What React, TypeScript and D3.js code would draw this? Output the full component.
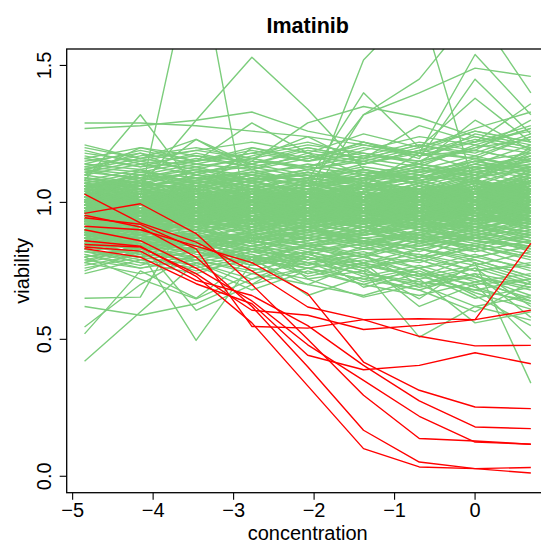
import React from "react";
import * as d3 from "d3";

// log concentration (2-fold dilution series)
const concentration = [-4.852, -4.159, -3.466, -2.773, -2.079, -1.386, -0.693, 0, 0.693];
const xTicks = [-5, -4, -3, -2, -1, 0];
const yTicks = [0, 0.5, 1.0, 1.5];
const title = "Imatinib";

// insensitive cell lines (green)
const greenCore: number[][] = [
  [0.96,0.99,0.94,1.01,0.97,0.95,1.02,0.99,1.04],[1.01,0.97,1.03,0.99,1.05,1.02,0.98,1.06,1.01],
  [0.92,0.95,0.91,0.97,0.93,0.99,0.94,0.96,0.92],[0.99,1.03,1.00,0.96,1.02,1.06,1.01,1.04,1.09],
  [0.94,0.91,0.96,0.93,0.98,0.92,0.97,1.00,0.95],[1.04,1.00,1.06,1.02,0.98,1.04,1.08,1.03,1.07],
  [0.97,1.01,0.98,1.04,1.00,0.97,1.03,0.99,1.02],[0.90,0.93,0.97,0.92,0.95,0.91,0.94,0.98,0.93],
  [1.00,0.96,0.99,1.03,0.97,1.01,0.96,1.02,1.06],[0.95,0.98,1.02,0.97,1.01,0.98,1.04,0.97,1.00],
  [1.02,1.05,1.01,0.98,1.03,1.07,1.02,1.08,1.04],[0.93,0.96,0.92,0.95,0.99,0.94,0.91,0.96,0.99],
  [0.98,0.94,0.97,1.00,0.96,1.02,0.99,0.95,1.01],[1.06,1.02,1.04,1.08,1.03,1.00,1.06,1.11,1.07],
  [0.91,0.89,0.93,0.90,0.94,0.96,0.92,0.89,0.94],[0.97,1.00,0.96,0.99,1.02,0.98,1.01,1.05,0.99],
  [1.01,0.98,1.02,0.97,1.00,1.04,0.97,1.01,1.05],[0.94,0.97,0.99,0.95,0.92,0.97,1.00,0.96,0.93],
  [0.99,1.02,0.98,1.03,1.06,1.01,1.04,1.00,1.08],[0.87,0.91,0.89,0.93,0.90,0.88,0.93,0.91,0.87],
  [1.03,0.99,1.01,1.05,1.00,1.03,0.99,1.06,1.02],[0.96,0.93,0.97,0.94,0.98,1.01,0.95,0.99,1.03],
  [1.00,1.04,1.02,0.99,1.04,1.00,1.05,1.02,0.98],[0.92,0.96,0.94,0.98,0.95,0.93,0.97,0.94,0.97],
  [0.98,0.95,1.00,0.96,1.01,0.97,1.02,1.06,1.03],[1.05,1.08,1.03,1.06,1.02,1.07,1.04,1.09,1.13],
  [0.93,0.90,0.95,0.97,0.93,0.96,0.99,0.94,0.97],[0.99,1.01,0.97,1.00,0.98,1.02,0.96,1.00,0.97],
  [0.95,0.99,0.96,0.93,0.97,0.95,1.00,1.03,1.00],[1.02,1.00,1.04,1.01,1.05,1.02,1.07,1.03,1.10],
  [0.89,0.93,0.91,0.95,0.91,0.94,0.90,0.95,0.92],[0.97,0.94,0.98,1.02,0.99,0.96,1.00,0.97,1.01],
  [1.01,1.04,0.99,0.97,1.01,1.05,1.03,1.07,1.04],[0.94,0.98,0.95,0.99,0.96,1.00,0.97,0.93,0.96],
  [0.98,1.01,1.03,0.99,1.03,0.99,1.02,1.04,1.00],[0.96,0.92,0.94,0.97,0.94,0.91,0.95,0.98,0.94],
  [1.03,1.06,1.02,1.04,1.07,1.03,1.00,1.05,1.09],[0.91,0.95,0.97,0.93,0.96,0.99,0.94,0.97,1.00],
  [1.00,0.97,1.01,1.03,0.99,1.01,1.04,1.00,1.03],[0.95,0.97,0.93,0.96,1.00,0.96,0.93,0.97,0.95],
  [0.97,1.02,0.99,1.01,0.97,1.03,1.00,1.04,1.07],[1.04,1.01,1.05,1.00,1.03,1.06,1.02,0.99,1.04],
  [0.90,0.94,0.92,0.89,0.93,0.91,0.95,0.92,0.96],[0.99,0.96,1.00,0.98,1.02,0.98,1.01,1.05,1.01],
  [0.93,0.97,0.95,0.99,0.95,0.98,0.96,1.00,0.97],[1.02,0.99,1.03,1.05,1.01,1.04,1.08,1.03,1.06],
  [0.96,1.00,0.98,0.94,0.99,0.95,0.98,1.01,0.98],[0.98,1.02,0.97,1.01,1.04,1.00,1.03,0.99,1.02],
  [0.92,0.94,0.96,0.93,0.97,0.94,0.99,0.96,0.93],[1.01,0.97,1.00,1.02,0.98,1.03,1.00,1.04,1.08],
  [0.95,0.99,0.97,1.00,0.96,0.99,0.95,0.98,1.01],[1.07,1.03,1.05,1.01,1.05,1.09,1.04,1.08,1.05],
  [0.88,0.92,0.90,0.94,0.91,0.93,0.90,0.94,0.91],[0.97,0.99,1.02,0.98,1.00,0.97,1.01,0.98,1.03],
  [1.00,1.03,0.99,1.02,0.99,1.02,1.05,1.01,0.99],[0.94,0.96,0.93,0.96,0.98,0.95,0.97,1.01,0.97],
  [0.99,0.97,1.01,0.97,1.02,1.06,1.02,1.05,1.10],[0.96,0.99,0.95,0.99,0.95,0.98,0.94,0.97,0.95],
  [1.02,1.05,1.03,1.00,1.04,1.01,1.06,1.02,1.05],[0.93,0.95,0.97,0.95,0.93,0.97,0.95,0.99,1.02],
  [0.97,0.95,1.00,0.97,1.00,1.03,0.98,1.02,0.99],[1.00,1.02,0.98,1.02,0.97,1.00,1.04,1.00,1.04],
  [0.93,0.91,0.94,0.98,0.94,0.97,0.93,0.96,1.00],[0.98,1.00,1.04,1.00,1.03,0.99,1.02,1.07,1.03],
  [0.95,0.97,0.94,0.96,0.99,0.96,1.00,0.96,0.94],[1.03,1.01,1.00,1.04,1.02,1.06,1.03,1.01,1.06],
  [0.91,0.94,0.92,0.95,0.92,0.95,0.91,0.94,0.97],[0.99,0.96,0.99,0.95,0.99,1.02,0.97,1.00,1.04],
  [0.96,1.00,0.97,1.00,1.03,0.99,1.03,0.99,0.97],[1.02,0.98,1.03,1.00,0.97,1.01,1.05,1.03,1.08],
  [0.94,0.96,0.98,0.94,0.97,0.93,0.96,1.00,0.96],[1.00,1.03,1.01,1.03,1.00,1.04,1.01,1.05,1.01],
  [0.92,0.90,0.93,0.91,0.95,0.92,0.96,0.93,0.96],[0.97,1.01,0.96,0.98,1.01,0.98,0.95,0.99,1.02],
  [1.04,1.02,1.06,1.03,1.01,1.05,1.03,1.08,1.04],[0.95,0.93,0.96,1.00,0.96,0.94,0.98,0.95,0.99],
  [0.99,1.02,0.99,0.97,1.01,0.98,1.02,1.04,1.00],[0.90,0.93,0.95,0.92,0.89,0.93,0.95,0.91,0.94],
  [1.01,0.99,1.02,1.05,1.02,1.00,1.03,1.00,1.05],[0.96,0.98,0.95,0.97,0.95,0.99,0.96,1.01,0.97],
  [0.98,0.96,1.00,1.02,0.98,1.01,0.99,0.97,1.02],[1.02,1.04,1.01,0.99,1.03,1.01,1.06,1.02,1.06],
  [0.93,0.96,0.94,0.96,0.93,0.96,0.94,0.98,0.94],[0.97,0.99,0.97,1.01,0.98,1.03,1.00,1.03,1.07],
  [1.00,0.98,1.02,0.98,1.02,0.98,1.02,0.99,1.03],[0.94,0.98,0.96,0.93,0.96,1.00,0.96,0.99,0.95],
  [1.03,1.00,1.03,1.01,1.04,1.01,0.98,1.02,1.04],[0.91,0.93,0.90,0.94,0.96,0.92,0.95,0.92,0.95],
  [0.99,1.01,0.98,1.00,0.97,1.00,1.04,1.01,0.98],[0.96,0.94,0.98,0.95,0.99,0.97,0.94,0.97,1.01],
  [1.01,1.03,1.00,1.03,1.00,1.03,1.01,1.06,1.03],[0.94,0.92,0.95,0.97,0.95,0.97,0.99,0.95,0.98],
  [0.98,1.00,1.02,0.99,1.01,0.97,1.00,1.03,1.00],[0.97,0.95,0.97,0.99,0.97,1.00,0.98,0.96,0.99],
  [1.02,1.00,0.98,1.01,1.04,1.02,1.04,1.01,1.05],[0.92,0.95,0.93,0.91,0.94,0.96,0.93,0.96,0.93],
  [0.99,0.97,1.00,1.02,0.99,1.02,0.99,1.02,1.06],[0.95,0.98,0.96,0.98,1.00,0.97,1.01,0.97,0.96],
  [1.00,1.02,1.03,1.00,1.02,1.04,1.01,1.04,1.02],[0.93,0.95,0.97,0.94,0.96,0.93,0.97,0.94,0.97],
];

const greenZigzag: number[][] = [
  [0.93,1.02,0.95,1.05,0.97,1.08,0.99,1.06,0.96],[1.04,0.95,1.03,0.94,1.01,0.93,1.04,0.97,1.08],
  [0.97,0.90,0.99,1.06,0.96,1.03,0.94,1.05,1.10],[0.89,0.97,0.92,0.99,0.91,0.98,1.05,0.95,1.02],
  [1.01,1.07,0.98,0.93,1.03,0.96,1.02,1.09,0.97],[0.95,0.88,0.96,1.02,0.94,0.89,0.98,0.93,1.04],
  [1.06,0.99,1.05,0.97,1.08,1.01,0.95,1.03,0.99],[0.92,0.99,1.04,0.95,0.90,0.98,1.06,1.00,0.94],
  [0.99,0.93,0.90,0.98,1.05,0.99,0.93,0.98,1.07],[1.02,1.08,1.01,1.07,0.99,1.05,1.10,1.03,1.12],
  [0.88,0.94,0.99,0.91,0.97,0.92,0.99,1.04,0.96],[0.96,1.03,0.95,0.91,0.98,1.04,0.97,0.92,1.00],
  [1.00,0.94,1.02,1.08,1.01,0.95,1.03,1.08,1.02],[0.94,1.00,0.92,0.97,1.04,0.98,0.91,0.99,0.93],
  [1.05,0.98,1.04,1.00,0.94,1.02,1.07,1.00,1.06],[0.91,0.86,0.94,0.89,0.96,0.90,0.97,0.91,0.99],
  [0.98,1.05,0.97,1.03,0.96,1.06,1.00,1.07,1.01],[1.03,0.97,0.93,1.01,1.06,0.98,1.04,0.96,1.03],
  [0.90,0.95,1.01,0.94,0.99,1.04,0.95,1.01,0.97],[0.97,0.92,0.98,1.04,0.97,0.93,1.01,0.95,0.91],
  [1.07,1.01,1.06,0.99,1.04,1.09,1.02,1.08,1.04],[0.93,0.98,0.91,0.96,0.92,0.98,0.94,1.02,1.07],
  [0.99,1.04,1.00,0.95,1.01,0.96,1.05,0.99,0.95],[0.86,0.91,0.88,0.94,0.89,0.95,0.90,0.93,0.98],
  [1.02,0.96,1.03,0.98,1.05,1.00,0.97,1.04,1.00],[0.95,1.01,0.97,1.02,0.95,1.01,1.06,0.98,1.04],
  [1.00,0.95,0.99,0.94,1.00,0.94,0.99,1.05,1.11],[0.92,0.97,0.94,1.01,0.96,0.91,0.96,0.90,0.95],
  [1.04,1.00,1.07,1.02,0.97,1.03,0.98,1.02,0.98],[0.97,1.02,0.96,1.00,1.05,1.00,1.04,1.10,1.05],
  [0.89,0.93,0.97,0.92,0.96,0.93,0.88,0.95,0.90],[1.01,0.97,1.01,1.06,0.99,1.06,1.01,0.97,1.03],
  [0.94,0.99,0.93,0.97,1.02,0.95,0.99,0.94,0.99],[0.98,1.03,1.04,0.98,0.94,0.99,1.03,0.99,1.09],
  [1.05,1.00,0.97,1.03,1.07,1.02,0.96,1.01,0.96],[0.91,0.96,0.92,0.98,0.93,0.97,1.02,0.97,1.01],
  [0.96,0.92,0.97,0.92,0.99,1.03,0.97,1.03,0.98],[1.03,1.07,1.01,1.05,1.01,0.97,1.02,1.06,1.13],
  [0.93,0.89,0.95,0.99,0.95,1.00,0.94,0.90,0.96],[1.00,1.05,0.99,1.02,0.96,1.01,1.07,1.02,1.00],
  [0.95,0.99,1.03,0.96,1.02,0.96,0.93,0.99,1.05],[0.99,0.94,0.97,1.01,0.98,1.04,0.99,1.05,0.99],
  [0.87,0.92,0.90,0.86,0.92,0.89,0.94,0.89,0.93],[1.02,0.99,1.05,1.01,1.06,1.00,1.05,1.01,1.07],
  [0.94,1.00,0.95,0.99,0.94,0.98,0.93,0.98,1.02],[0.97,0.94,1.00,0.96,1.03,0.97,1.02,0.96,0.92],
  [1.06,1.02,0.99,1.04,1.00,1.06,1.01,1.07,1.02],[0.92,0.96,0.93,0.90,0.95,0.99,0.95,1.00,0.96],
  [1.00,1.03,0.96,1.00,1.04,0.99,1.04,0.98,1.04],[0.95,0.92,0.98,0.95,0.99,0.93,0.97,1.02,0.97],
  [0.98,1.02,1.01,1.05,0.99,1.03,0.98,1.03,1.09],[0.90,0.94,0.90,0.93,0.97,0.92,0.97,0.93,0.89],
  [1.03,0.98,1.02,0.97,1.02,1.07,1.03,1.08,1.03],[0.96,1.00,0.96,1.01,0.96,0.93,0.99,0.94,1.00],
  [0.99,0.96,1.03,0.99,1.03,0.99,1.05,1.00,0.97],[0.93,0.97,0.95,0.92,0.98,0.94,0.92,0.97,1.03],
  [1.01,1.05,1.00,1.04,1.00,1.05,1.00,1.04,1.00],[0.97,0.93,0.99,0.95,0.93,0.98,1.03,0.98,1.05],
  [0.94,0.98,0.93,0.98,1.01,0.96,1.00,1.06,1.00],[1.04,1.01,1.04,1.08,1.03,1.01,1.06,1.01,1.08],
  [0.91,0.94,0.97,0.93,0.90,0.95,0.92,0.96,0.92],[0.98,0.95,0.97,1.01,0.96,1.02,0.97,1.01,0.96],
  [1.00,1.04,1.01,0.98,1.04,0.98,1.03,0.99,1.05],[0.95,0.98,0.94,0.99,0.95,1.00,0.95,0.99,0.95],
  [0.97,1.00,1.04,0.99,1.02,0.97,1.03,1.07,1.01],[0.92,0.95,0.91,0.95,0.92,0.97,0.93,0.90,0.95],
  [1.02,0.98,1.02,1.04,1.00,1.04,1.00,1.05,1.11],[0.96,1.02,0.98,0.94,0.99,0.94,0.98,0.93,0.98],
  [0.99,0.97,0.95,1.00,1.05,1.01,1.06,1.01,1.04],[0.88,0.91,0.94,0.90,0.93,0.88,0.91,0.96,0.91],
  [1.05,1.03,1.07,1.02,1.04,1.07,1.04,1.00,1.05],[0.94,0.96,0.92,0.97,1.00,0.95,0.98,1.03,0.99],
  [1.01,0.99,1.03,0.97,1.01,1.04,0.98,1.03,0.98],[0.97,0.95,0.99,1.03,0.97,0.99,1.03,0.97,1.02],
  [0.93,0.98,0.96,0.93,0.97,0.92,0.96,1.01,0.97],[1.00,0.97,1.00,1.03,0.99,1.04,1.01,1.05,1.01],
  [0.96,1.01,0.97,0.99,1.03,0.98,1.02,0.98,1.06],[1.03,1.00,1.05,1.01,0.98,1.02,0.99,1.03,0.99],
  [0.90,0.92,0.96,0.92,0.95,0.91,0.96,0.92,0.97],[0.98,1.03,0.99,1.02,0.98,1.03,0.97,1.02,0.97],
];

const greenLow: number[][] = [
  [0.85,0.88,0.84,0.90,0.86,0.89,0.85,0.91,0.88],[0.83,0.87,0.86,0.82,0.88,0.85,0.90,0.86,0.84],
  [0.87,0.84,0.88,0.86,0.83,0.89,0.86,0.84,0.89],[0.86,0.90,0.87,0.91,0.88,0.84,0.88,0.92,0.87],
  [0.84,0.86,0.89,0.85,0.90,0.87,0.83,0.87,0.91],[0.88,0.85,0.87,0.89,0.85,0.88,0.91,0.86,0.83],
  [0.82,0.85,0.83,0.87,0.84,0.86,0.82,0.88,0.85],[0.86,0.83,0.88,0.84,0.87,0.83,0.87,0.84,0.80],
  [0.89,0.87,0.85,0.88,0.91,0.87,0.89,0.85,0.88],[0.85,0.89,0.86,0.83,0.86,0.90,0.85,0.89,0.86],
  [0.80,0.84,0.82,0.86,0.83,0.80,0.85,0.82,0.86],[0.87,0.86,0.90,0.87,0.89,0.86,0.84,0.88,0.82],
  [0.84,0.81,0.85,0.88,0.84,0.87,0.83,0.80,0.84],[0.90,0.88,0.86,0.89,0.87,0.91,0.88,0.86,0.90],
  [0.83,0.86,0.88,0.84,0.81,0.85,0.88,0.84,0.79],
  [0.86,0.90,0.85,0.89,0.93,0.88,0.92,0.87,0.91],[0.88,0.84,0.89,0.92,0.87,0.91,0.86,0.90,0.85],
  [0.84,0.88,0.91,0.86,0.90,0.85,0.89,0.93,0.88],[0.87,0.91,0.86,0.88,0.84,0.89,0.93,0.88,0.92],
  [0.85,0.83,0.87,0.91,0.86,0.90,0.87,0.83,0.88],[0.89,0.86,0.90,0.85,0.89,0.93,0.87,0.91,0.86],
  [0.83,0.87,0.84,0.88,0.91,0.85,0.84,0.88,0.93],[0.86,0.89,0.92,0.88,0.85,0.88,0.92,0.86,0.84],
  [0.88,0.85,0.83,0.87,0.90,0.86,0.89,0.92,0.89],[0.84,0.89,0.87,0.84,0.88,0.92,0.86,0.89,0.85],
  [0.78,0.82,0.80,0.84,0.79,0.83,0.81,0.77,0.82],[0.81,0.77,0.83,0.80,0.84,0.80,0.76,0.81,0.75],
  [0.76,0.80,0.84,0.79,0.82,0.78,0.83,0.79,0.73],[0.80,0.83,0.78,0.82,0.77,0.81,0.78,0.84,0.80],
  [0.74,0.79,0.82,0.77,0.81,0.76,0.80,0.75,0.78],[0.79,0.76,0.80,0.86,0.82,0.85,0.80,0.83,0.77],
  [0.88,0.85,0.83,0.80,0.78,0.74,0.71,0.68,0.64],[0.84,0.82,0.86,0.79,0.76,0.80,0.74,0.70,0.72],
  [0.91,0.87,0.84,0.86,0.81,0.77,0.79,0.73,0.69],[0.79,0.83,0.77,0.81,0.74,0.78,0.72,0.76,0.70],
  [0.86,0.80,0.83,0.77,0.80,0.73,0.77,0.71,0.74],[0.82,0.78,0.80,0.76,0.72,0.75,0.69,0.73,0.66],
  [0.89,0.84,0.80,0.83,0.79,0.82,0.76,0.79,0.73],[0.77,0.81,0.75,0.79,0.76,0.72,0.76,0.69,0.63],
  [0.85,0.88,0.81,0.78,0.82,0.77,0.73,0.77,0.71],[0.81,0.76,0.79,0.74,0.78,0.71,0.75,0.67,0.61],
  [0.87,0.82,0.85,0.81,0.76,0.79,0.74,0.65,0.69],[0.80,0.84,0.79,0.83,0.78,0.74,0.70,0.74,0.58],
  [0.90,0.86,0.88,0.82,0.84,0.78,0.81,0.75,0.77],[0.83,0.79,0.76,0.80,0.73,0.77,0.73,0.68,0.72],
  [0.78,0.74,0.78,0.72,0.76,0.70,0.66,0.71,0.65],
];

const greenHigh: number[][] = [
  [1.08,1.05,1.10,1.07,1.11,1.06,1.09,1.13,1.10],[1.06,1.10,1.07,1.04,1.08,1.12,1.08,1.11,1.15],
  [1.10,1.07,1.05,1.09,1.06,1.09,1.13,1.09,1.12],[1.05,1.09,1.12,1.08,1.10,1.07,1.11,1.15,1.18],
  [1.09,1.06,1.08,1.11,1.13,1.10,1.07,1.12,1.16],[1.07,1.11,1.09,1.05,1.09,1.13,1.10,1.16,1.13],
  [1.12,1.08,1.11,1.14,1.10,1.08,1.12,1.10,1.19],[1.04,1.07,1.05,1.09,1.06,1.10,1.14,1.11,1.14],
  [1.08,1.12,1.07,1.10,1.14,1.11,1.09,1.14,1.21],[1.06,1.04,1.08,1.06,1.05,1.08,1.12,1.17,1.12],
  [1.11,1.09,1.13,1.08,1.12,1.15,1.11,1.13,1.17],[1.03,1.06,1.08,1.12,1.07,1.05,1.10,1.08,1.20],
  [1.10,1.14,1.10,1.07,1.11,1.08,1.15,1.19,1.15],[1.05,1.03,1.06,1.10,1.08,1.12,1.09,1.15,1.11],
  [1.09,1.07,1.11,1.13,1.09,1.14,1.18,1.12,1.17],
  [1.07,1.04,1.08,1.05,1.09,1.06,1.10,1.07,1.13],[1.05,1.09,1.06,1.10,1.06,1.10,1.07,1.12,1.09],
  [1.09,1.05,1.07,1.11,1.08,1.05,1.09,1.14,1.11],[1.06,1.08,1.11,1.07,1.04,1.09,1.13,1.09,1.16],
  [1.04,1.07,1.04,1.08,1.11,1.07,1.05,1.10,1.14],[1.08,1.06,1.09,1.06,1.09,1.12,1.08,1.13,1.10],
  [1.05,1.10,1.08,1.04,1.07,1.10,1.14,1.10,1.18],[1.07,1.05,1.10,1.08,1.12,1.08,1.11,1.15,1.12],
  [1.03,1.06,1.09,1.11,1.07,1.11,1.08,1.12,1.15],[1.06,1.10,1.05,1.09,1.06,1.09,1.12,1.08,1.17],
  [1.16,1.13,1.18,1.14,1.19,1.16,1.21,1.17,1.24],[1.14,1.19,1.15,1.20,1.16,1.22,1.18,1.24,1.20],
  [1.18,1.15,1.12,1.17,1.21,1.18,1.15,1.20,1.27],[1.13,1.17,1.20,1.16,1.13,1.19,1.24,1.21,1.18],
  [1.20,1.16,1.19,1.22,1.18,1.15,1.20,1.26,1.22],[1.12,1.10,1.14,1.18,1.15,1.20,1.17,1.22,1.28],
  [1.14,1.12,1.16,1.13,1.17,1.14,1.19,1.22,1.26],[1.17,1.13,1.15,1.19,1.15,1.18,1.14,1.20,1.23],
  [1.12,1.16,1.13,1.16,1.20,1.16,1.21,1.18,1.25],[1.15,1.18,1.14,1.12,1.16,1.21,1.17,1.23,1.19],
  [1.19,1.14,1.17,1.15,1.13,1.17,1.22,1.19,1.30],[1.13,1.11,1.15,1.18,1.22,1.17,1.15,1.25,1.21],
  [1.16,1.20,1.17,1.13,1.17,1.14,1.19,1.16,1.24],[1.11,1.15,1.19,1.16,1.12,1.16,1.13,1.21,1.27],
];

const greenOutliersHigh: number[][] = [
  [1.29,1.29,1.28,1.26,1.24,1.21,1.18,1.16,1.13],[1.27,1.28,1.30,1.33,1.26,1.22,1.17,1.19,1.15],
  [1.08,1.32,1.05,1.10,1.02,1.06,1.00,1.04,1.01],[0.99,1.06,1.30,1.53,1.34,1.12,1.06,1.02,0.98],
  [1.00,1.02,1.95,0.86,0.98,1.01,0.96,1.03,1.00],[1.01,0.98,1.03,0.99,1.00,1.52,1.73,1.05,1.02],
  [0.99,1.02,0.97,1.04,1.00,1.32,1.45,1.70,1.40],[1.00,0.97,1.02,0.99,1.03,1.06,1.18,1.54,1.32],
  [1.03,1.00,1.05,1.02,1.06,1.32,1.40,1.49,1.46],[1.05,1.10,1.08,1.15,1.29,1.35,1.31,1.24,1.20],
  [1.02,1.06,1.12,1.10,1.08,1.40,1.20,1.38,1.22],[1.00,1.12,1.04,1.20,1.15,1.22,1.16,1.45,1.25],
  [1.21,1.16,1.23,1.12,1.18,1.10,1.14,1.30,1.19],[1.10,1.20,1.15,1.29,1.18,1.25,1.20,1.27,1.33],
  [1.04,1.08,1.23,1.14,1.20,1.16,1.28,1.22,1.36],[1.12,1.18,1.10,1.16,1.24,1.14,1.19,1.26,1.22],
];

const greenOutliersLow: number[][] = [
  [0.42,0.60,0.78,0.70,0.82,0.86,0.80,0.88,0.83],[0.52,0.75,0.65,0.80,0.77,0.84,0.79,0.85,0.81],
  [0.545,0.70,0.82,0.77,0.85,0.80,0.88,0.82,0.86],[0.62,0.588,0.63,0.72,0.80,0.75,0.83,0.78,0.72],
  [0.65,0.654,1.00,0.88,0.92,0.85,0.90,0.87,0.84],[0.75,0.82,0.496,0.78,0.85,0.81,0.86,0.80,0.84],
  [0.80,0.72,0.648,0.74,0.70,0.78,0.73,0.80,0.76],[0.78,0.85,0.606,0.70,0.76,0.72,0.68,0.74,0.70],
  [0.90,0.86,0.82,0.88,0.72,0.654,0.70,0.62,0.66],[0.88,0.92,0.86,0.82,0.80,0.76,0.648,0.78,0.34],
  [0.92,0.89,0.93,0.85,0.80,0.75,0.508,0.62,0.57],[0.85,0.88,0.82,0.79,0.70,0.66,0.72,0.56,0.60],
  [0.87,0.83,0.86,0.80,0.74,0.78,0.62,0.70,0.50],[0.82,0.80,0.77,0.68,0.75,0.70,0.76,0.66,0.55],
  [0.89,0.86,0.84,0.78,0.82,0.69,0.74,0.72,0.64],[0.83,0.78,0.74,0.80,0.66,0.73,0.68,0.60,0.71],
  [0.90,0.84,0.88,0.83,0.78,0.81,0.70,0.76,0.62],[0.86,0.81,0.79,0.75,0.80,0.76,0.79,0.73,0.68],
];

// sensitive cell lines (red)
const redLines: number[][] = [
  [1.03,0.925,0.855,0.75,0.618,0.572,0.511,0.476,0.478],
  [0.96,0.995,0.886,0.70,0.50,0.296,0.138,0.129,0.117],
  [0.953,0.91,0.80,0.62,0.40,0.168,0.052,0.028,0.032],
  [0.944,0.92,0.83,0.547,0.541,0.572,0.575,0.572,0.85],
  [0.913,0.90,0.84,0.78,0.667,0.417,0.314,0.253,0.247],
  [0.90,0.86,0.76,0.64,0.48,0.35,0.219,0.125,0.117],
  [0.846,0.837,0.74,0.606,0.588,0.536,0.551,0.572,0.606],
  [0.837,0.822,0.715,0.66,0.55,0.405,0.275,0.18,0.174],
  [0.831,0.80,0.703,0.63,0.442,0.389,0.405,0.451,0.411],
  [0.86,0.84,0.73,0.56,0.33,0.101,0.034,0.028,0.012],
];

const GREEN = "#7CCD7C";
const RED = "#FF0000";
const FONT = "'Liberation Sans', Arial, Helvetica, sans-serif";

export default function App() {
  const W = 541, H = 543;
  const left = 66.7, right = 548.7, top = 49, bottom = 492.7;
  const xmin = d3.min(concentration)!, xmax = d3.max(concentration)!;
  const xpad = (xmax - xmin) * 0.04;
  const x = d3.scaleLinear().domain([xmin - xpad, xmax + xpad]).range([left, right]);
  const y = d3.scaleLinear().domain([-0.06, 1.56]).range([bottom, top]);
  const line = d3.line<number>().x((_, i) => x(concentration[i])).y((d) => y(d));
  const greens = [...greenCore, ...greenZigzag, ...greenLow, ...greenHigh, ...greenOutliersHigh, ...greenOutliersLow];

  return (
    <svg width={W} height={H} style={{ position: "absolute", left: 0, top: 0, background: "#fff" }} fontFamily={FONT}>
      <defs>
        <clipPath id="plotclip">
          <rect x={left} y={top} width={right - left} height={bottom - top} />
        </clipPath>
      </defs>
      <g clipPath="url(#plotclip)" fill="none" strokeLinejoin="round">
        {greens.map((d, i) => (
          <path key={"g" + i} d={line(d)!} stroke={GREEN} strokeWidth={1.4} />
        ))}
        {redLines.map((d, i) => (
          <path key={"r" + i} d={line(d)!} stroke={RED} strokeWidth={1.4} />
        ))}
      </g>
      <rect x={left} y={top} width={right - left} height={bottom - top} fill="none" stroke="#000" strokeWidth={1.3} />
      {xTicks.map((t) => (
        <g key={"xt" + t}>
          <line x1={x(t)} x2={x(t)} y1={bottom} y2={bottom + 7} stroke="#000" strokeWidth={1.1} />
          <text x={x(t)} y={517} textAnchor="middle" fontSize={20}>
            {t < 0 ? "\u2212" + Math.abs(t) : String(t)}
          </text>
        </g>
      ))}
      {yTicks.map((t) => (
        <g key={"yt" + t}>
          <line x1={left - 7} x2={left} y1={y(t)} y2={y(t)} stroke="#000" strokeWidth={1.1} />
          <text transform={`translate(51,${y(t)}) rotate(-90)`} textAnchor="middle" fontSize={20}>
            {t.toFixed(1)}
          </text>
        </g>
      ))}
      <text x={(left + right) / 2} y={32.5} textAnchor="middle" fontSize={21.5} fontWeight="bold">
        {title}
      </text>
      <text x={(left + right) / 2} y={540} textAnchor="middle" fontSize={20}>
        concentration
      </text>
      <text transform={`translate(29,${(top + bottom) / 2}) rotate(-90)`} textAnchor="middle" fontSize={20}>
        viability
      </text>
    </svg>
  );
}
